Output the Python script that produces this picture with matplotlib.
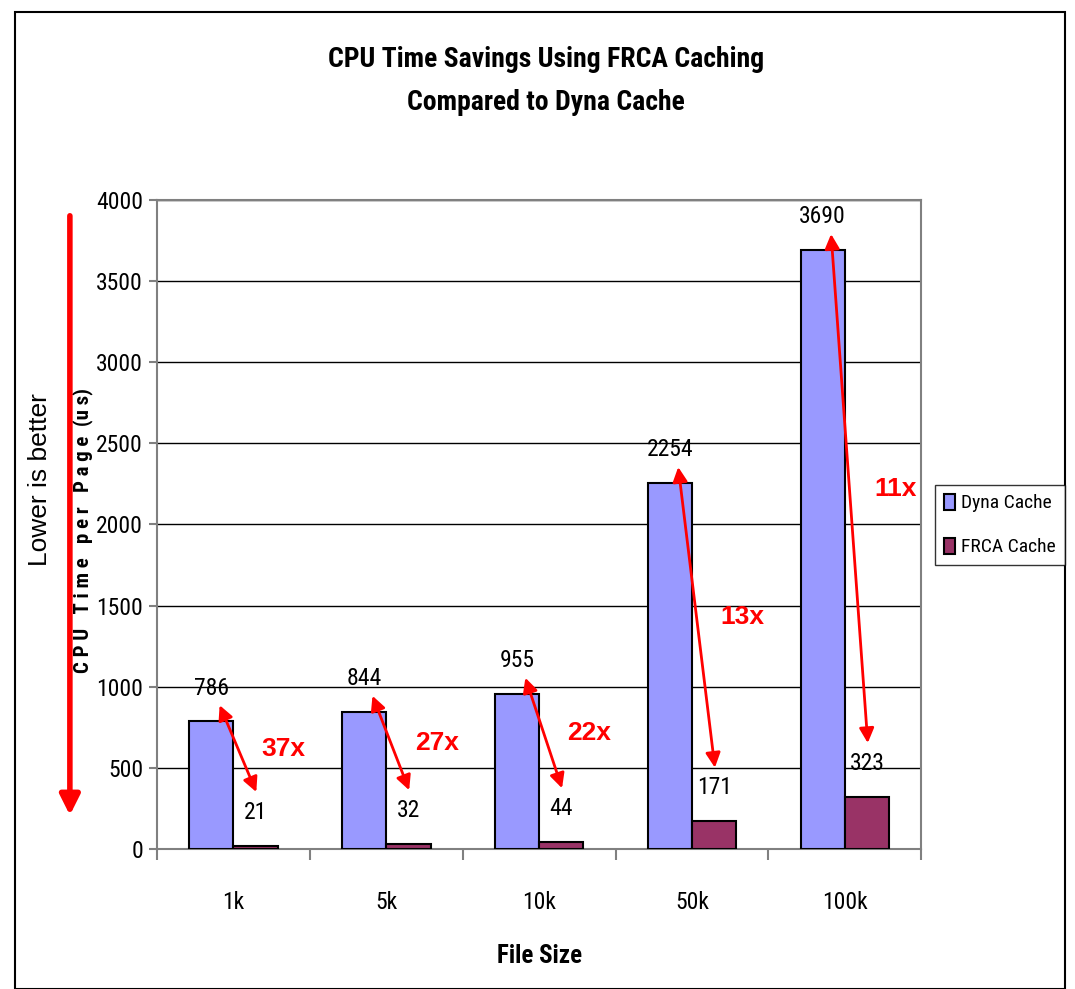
import matplotlib
matplotlib.use("Agg")
import matplotlib.pyplot as plt
from matplotlib import font_manager
from matplotlib.patches import Rectangle, FancyArrowPatch
import numpy as np

# data
sizes = ["1k", "5k", "10k", "50k", "100k"]
dyna = [786, 844, 955, 2254, 3690]
frca = [21, 32, 44, 171, 323]
savings = ["37x", "27x", "22x", "13x", "11x"]


def has_bold(name):
    for f in font_manager.fontManager.ttflist:
        if f.name == name and (f.weight in ("bold", 700) or str(f.weight) == "700"):
            return True
    return False


names = {f.name for f in font_manager.fontManager.ttflist}
cands = ["Arial Narrow", "Liberation Sans Narrow", "Archivo Narrow", "Roboto Condensed",
         "PT Sans Narrow", "Open Sans Condensed", "Encode Sans Condensed", "IBM Plex Sans Condensed"]
narrow = None
for cand in cands:
    if cand in names and has_bold(cand):
        narrow = cand
        break
if narrow is None:
    narrow = next((c for c in cands if c in names), "Liberation Sans")
plt.rcParams["font.family"] = [narrow, "DejaVu Sans"]

fig = plt.figure(figsize=(10.75, 9.89), dpi=100)
ax = fig.add_axes([0.146, 0.1416, 0.711, 0.6562])

x = np.arange(len(sizes))
w = 0.29
ax.bar(x - w / 2, dyna, w, color="#9999FF", edgecolor="black", linewidth=1.5, label="Dyna Cache", zorder=3)
ax.bar(x + w / 2, frca, w, color="#993366", edgecolor="black", linewidth=1.5, label="FRCA Cache", zorder=3)

ax.set_ylim(0, 4000)
ax.set_xlim(-0.5, len(sizes) - 0.5)
ax.set_yticks(range(0, 4001, 500))
ax.yaxis.grid(True, color="black", linewidth=1, zorder=0)
for s in ax.spines.values():
    s.set_color("#808080")
    s.set_linewidth(1.5)

# ticks at category borders, labels centred
ax.set_xticks(np.arange(-0.5, len(sizes)))
ax.set_xticklabels([])
ax.set_xticks(x, minor=True)
ax.set_xticklabels(sizes, minor=True, fontsize=17)
ax.tick_params(axis="x", which="major", direction="out", length=8, color="#808080", width=1.5)
ax.tick_params(axis="x", which="minor", length=0, pad=30)
ax.tick_params(axis="y", direction="out", length=6, color="#808080", width=1.5, labelsize=17, pad=4)

# value labels
for i in range(len(sizes)):
    ax.annotate(str(dyna[i]), (x[i] - w / 2, dyna[i]), xytext=(0, 24), textcoords="offset points",
                ha="center", va="center", fontsize=17)
    ax.annotate(str(frca[i]), (x[i] + w / 2, frca[i]), xytext=(0, 24), textcoords="offset points",
                ha="center", va="center", fontsize=17)

# red double arrows and savings factor
for i in range(len(sizes)):
    top = (x[i] - 0.09, dyna[i] + 100)
    bot = (x[i] + 0.15, frca[i] + 330)
    ax.annotate("", xy=top, xytext=bot,
                arrowprops=dict(arrowstyle="<|-|>", color="red", lw=2, mutation_scale=22,
                                shrinkA=0, shrinkB=0), zorder=5)
    ax.text(x[i] + 0.33, (top[1] + bot[1]) / 2, savings[i], color="red", fontsize=19,
            fontweight="bold", family="Liberation Sans", ha="center", va="center", zorder=5)

ax.set_xlabel("File Size", fontsize=18, fontweight="bold", labelpad=22)
ax.set_ylabel("C P U   T i m e   p e r   P a g e  (u s)", fontsize=15, fontweight="bold")
ax.yaxis.set_label_coords(-0.084, 0.49)

fig.text(0.508, 0.94, "CPU Time Savings Using FRCA Caching", ha="center", va="center",
         fontsize=20, fontweight="bold")
fig.text(0.508, 0.896, "Compared to Dyna Cache", ha="center", va="center",
         fontsize=20, fontweight="bold")

# "lower is better" arrow on the left
fig.patches.append(FancyArrowPatch((0.065, 1 - 213 / 989), (0.065, 1 - 818 / 989),
                                   transform=fig.transFigure, arrowstyle="-|>",
                                   mutation_scale=30, color="red", lw=4))
fig.text(0.037, 0.515, "Lower is better", rotation=90, ha="center", va="center", fontsize=19,
         family="Liberation Sans")

leg = fig.legend(loc="center left", bbox_to_anchor=(935 / 1075, 1 - 525 / 989), fontsize=14,
                 frameon=True, fancybox=False, edgecolor="black", handlelength=0.6,
                 handleheight=0.9, handletextpad=0.3, borderpad=0.45, labelspacing=1.3,
                 borderaxespad=0)
leg.get_frame().set_linewidth(1)

# outer frame
fig.patches.append(Rectangle((0.014, 0.0), 0.977, 0.988, transform=fig.transFigure,
                             fill=False, edgecolor="black", linewidth=1.5))

fig.savefig("out.png", dpi=100)
